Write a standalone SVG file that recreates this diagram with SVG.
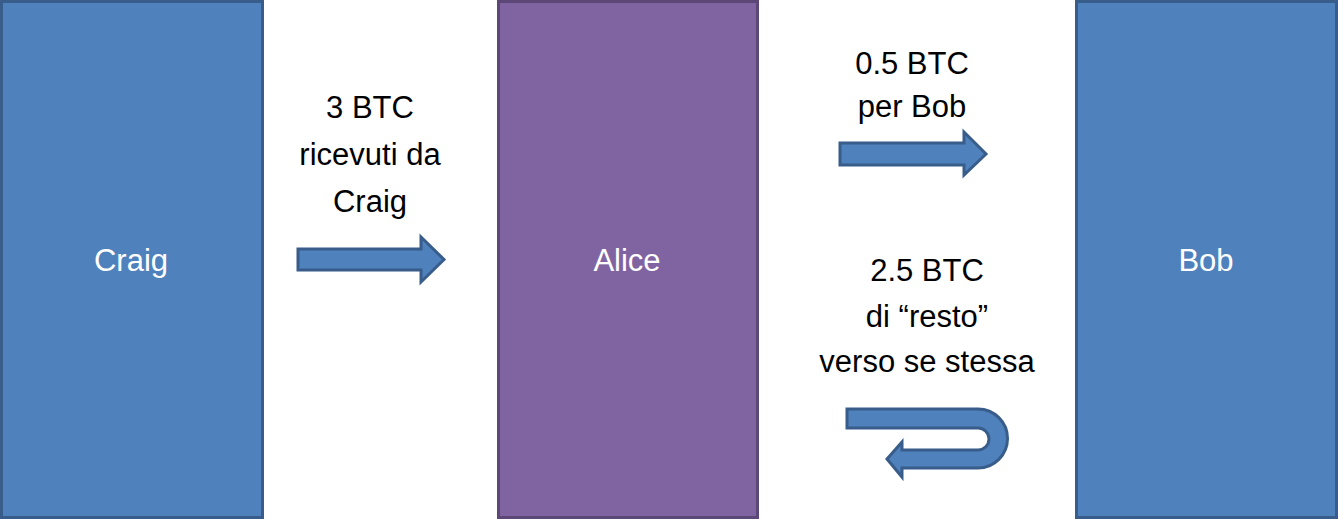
<svg xmlns="http://www.w3.org/2000/svg" width="1338" height="519" viewBox="0 0 1338 519">
<style>
.blue{fill:#4f81bd;stroke:#385d8a;stroke-width:3}
.purple{fill:#8064a2;stroke:#5c4776;stroke-width:3}
.arrow{fill:#4f81bd;stroke:#385d8a;stroke-width:3;stroke-linejoin:miter}
text{font-family:"Liberation Sans",Arial,sans-serif;font-size:31px;text-anchor:middle}
.w{fill:#ffffff}
.k{fill:#000000}
</style>
<g id="craig">
<rect class="blue" x="1.5" y="1.5" width="261" height="516"/>
<text class="w" x="131" y="271">Craig</text>
</g>
<g id="alice">
<rect class="purple" x="498.5" y="1.5" width="259" height="516"/>
<text class="w" x="627" y="271">Alice</text>
</g>
<g id="bob">
<rect class="blue" x="1076.5" y="1.5" width="260" height="516"/>
<text class="w" x="1206" y="271">Bob</text>
</g>
<g id="connectors">
<path class="arrow" d="M298,249 L421,249 L421,237 L444,259.5 L421,282 L421,270 L298,270 Z"/>
<path class="arrow" d="M840,143 L964,143 L964,132 L986,154 L964,175 L964,165 L840,165 Z"/>
<path class="arrow" d="M847,409 L978,409 A29.5,29.5 0 0 1 978,468 L902,468 L902,477 L887,459 L902,442 L902,450 L978,450 A10.5,10.5 0 0 0 978,428 L847,428 Z"/>
</g>
<g id="labels">
<text class="k" x="370" y="118">3 BTC</text>
<text class="k" x="370" y="165">ricevuti da</text>
<text class="k" x="370" y="212">Craig</text>
<text class="k" x="912" y="74">0.5 BTC</text>
<text class="k" x="912" y="117">per Bob</text>
<text class="k" x="927" y="281">2.5 BTC</text>
<text class="k" x="927" y="327">di “resto”</text>
<text class="k" x="927" y="372">verso se stessa</text>
</g>
</svg>
